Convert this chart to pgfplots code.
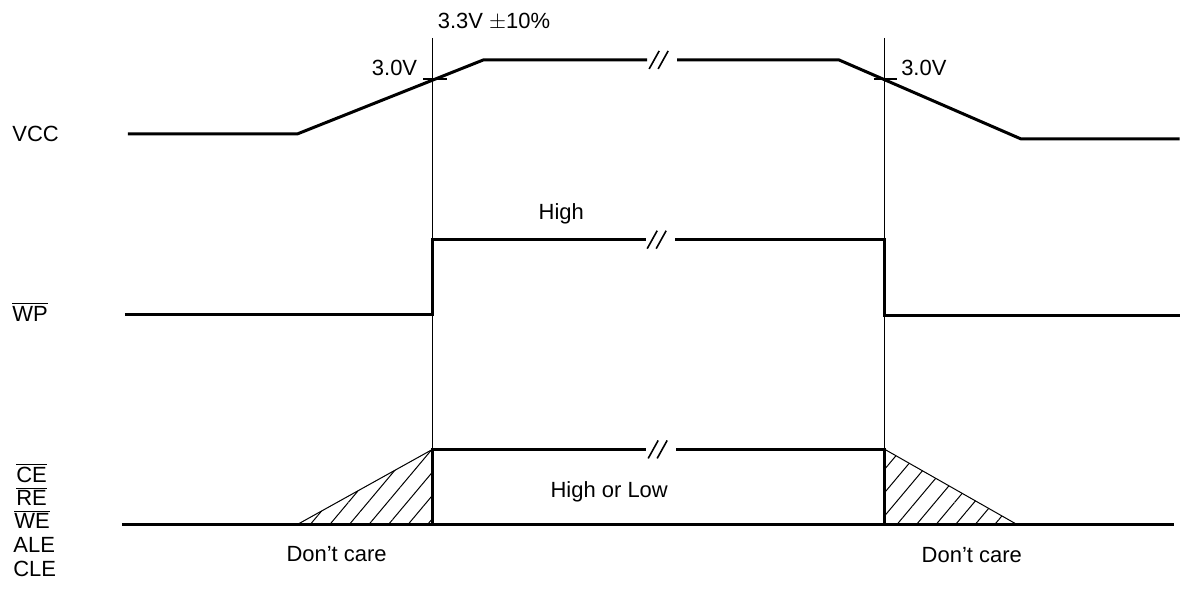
\documentclass[border=0pt]{standalone}
\usepackage{pgfplots}
\pgfplotsset{compat=1.18}
\usetikzlibrary{patterns.meta}
\usepackage{fontspec}
\setmainfont{Liberation Sans}
\tikzset{lab/.style={font=\fontsize{11}{13}\selectfont, inner sep=0pt}}
\begin{document}
\begin{tikzpicture}
\begin{axis}[scale only axis, width=590.5pt, height=296pt,
  xmin=0, xmax=1181, ymin=0, ymax=592, y dir=reverse,
  hide axis, clip=false,
  every axis plot/.append style={black},
  sig/.style={line width=1.5pt, line join=miter},
  thn/.style={line width=0.5pt}]
\path (axis cs:0,0) rectangle (axis cs:1181,592);
% guide lines
\addplot[thn] coordinates {(433,38) (433,527)};
\addplot[thn] coordinates {(886,38) (886,527)};
% VCC
\addplot[sig] coordinates {(128,134) (298,134) (484,60) (648,60)};
\addplot[sig] coordinates {(678,60) (840,60) (1022,139) (1181,139)};
\addplot[line width=0.7pt] coordinates {(424,79) (448,79)};
\addplot[line width=0.7pt] coordinates {(875,79) (898,79)};
% WP
\addplot[sig] coordinates {(125,315) (433,315) (433,240) (647,240)};
\addplot[sig] coordinates {(676,240) (886,240) (886,316) (1181,316)};
% CE group
\addplot[sig] coordinates {(122,525) (1175,525)};
\addplot[sig] coordinates {(433,525) (433,450) (647,450)};
\addplot[sig] coordinates {(677,450) (886,450) (886,525)};
\addplot[thn, pattern={Lines[angle=50, distance=7.5pt, line width=0.5pt]}] coordinates {(298,525) (433,450) (433,525)} -- cycle;
\addplot[thn, pattern={Lines[angle=50, distance=7.5pt, line width=0.5pt]}] coordinates {(886,450) (1018,525) (886,525)} -- cycle;
% breaks
\addplot[line width=0.8pt] coordinates {(650,69) (660,51)};
\addplot[line width=0.8pt] coordinates {(659,69) (669,51)};
\addplot[line width=0.8pt] coordinates {(648,249) (658,231)};
\addplot[line width=0.8pt] coordinates {(657,249) (667,231)};
\addplot[line width=0.8pt] coordinates {(649,459) (659,441)};
\addplot[line width=0.8pt] coordinates {(658,459) (668,441)};
% labels
\node[lab, anchor=west] at (axis cs:438,22) {3.3V $\pm$10\%};
\node[lab, anchor=west] at (axis cs:372,68) {3.0V};
\node[lab, anchor=west] at (axis cs:902,68) {3.0V};
\node[lab, anchor=west] at (axis cs:12,134) {VCC};
\node[lab, anchor=west] at (axis cs:12,312) {$\overline{\mbox{WP}}$};
\node[lab, anchor=west] at (axis cs:16,474) {$\overline{\mbox{CE}}$};
\node[lab, anchor=west] at (axis cs:16,497) {$\overline{\mbox{RE}}$};
\node[lab, anchor=west] at (axis cs:14,520) {$\overline{\mbox{WE}}$};
\node[lab, anchor=west] at (axis cs:13,546) {ALE};
\node[lab, anchor=west] at (axis cs:13,570) {CLE};
\node[lab] at (axis cs:562,214) {High};
\node[lab] at (axis cs:610,492) {High or Low};
\node[lab] at (axis cs:337,555) {Don't care};
\node[lab] at (axis cs:973,556) {Don't care};
\end{axis}
\end{tikzpicture}
\end{document}
